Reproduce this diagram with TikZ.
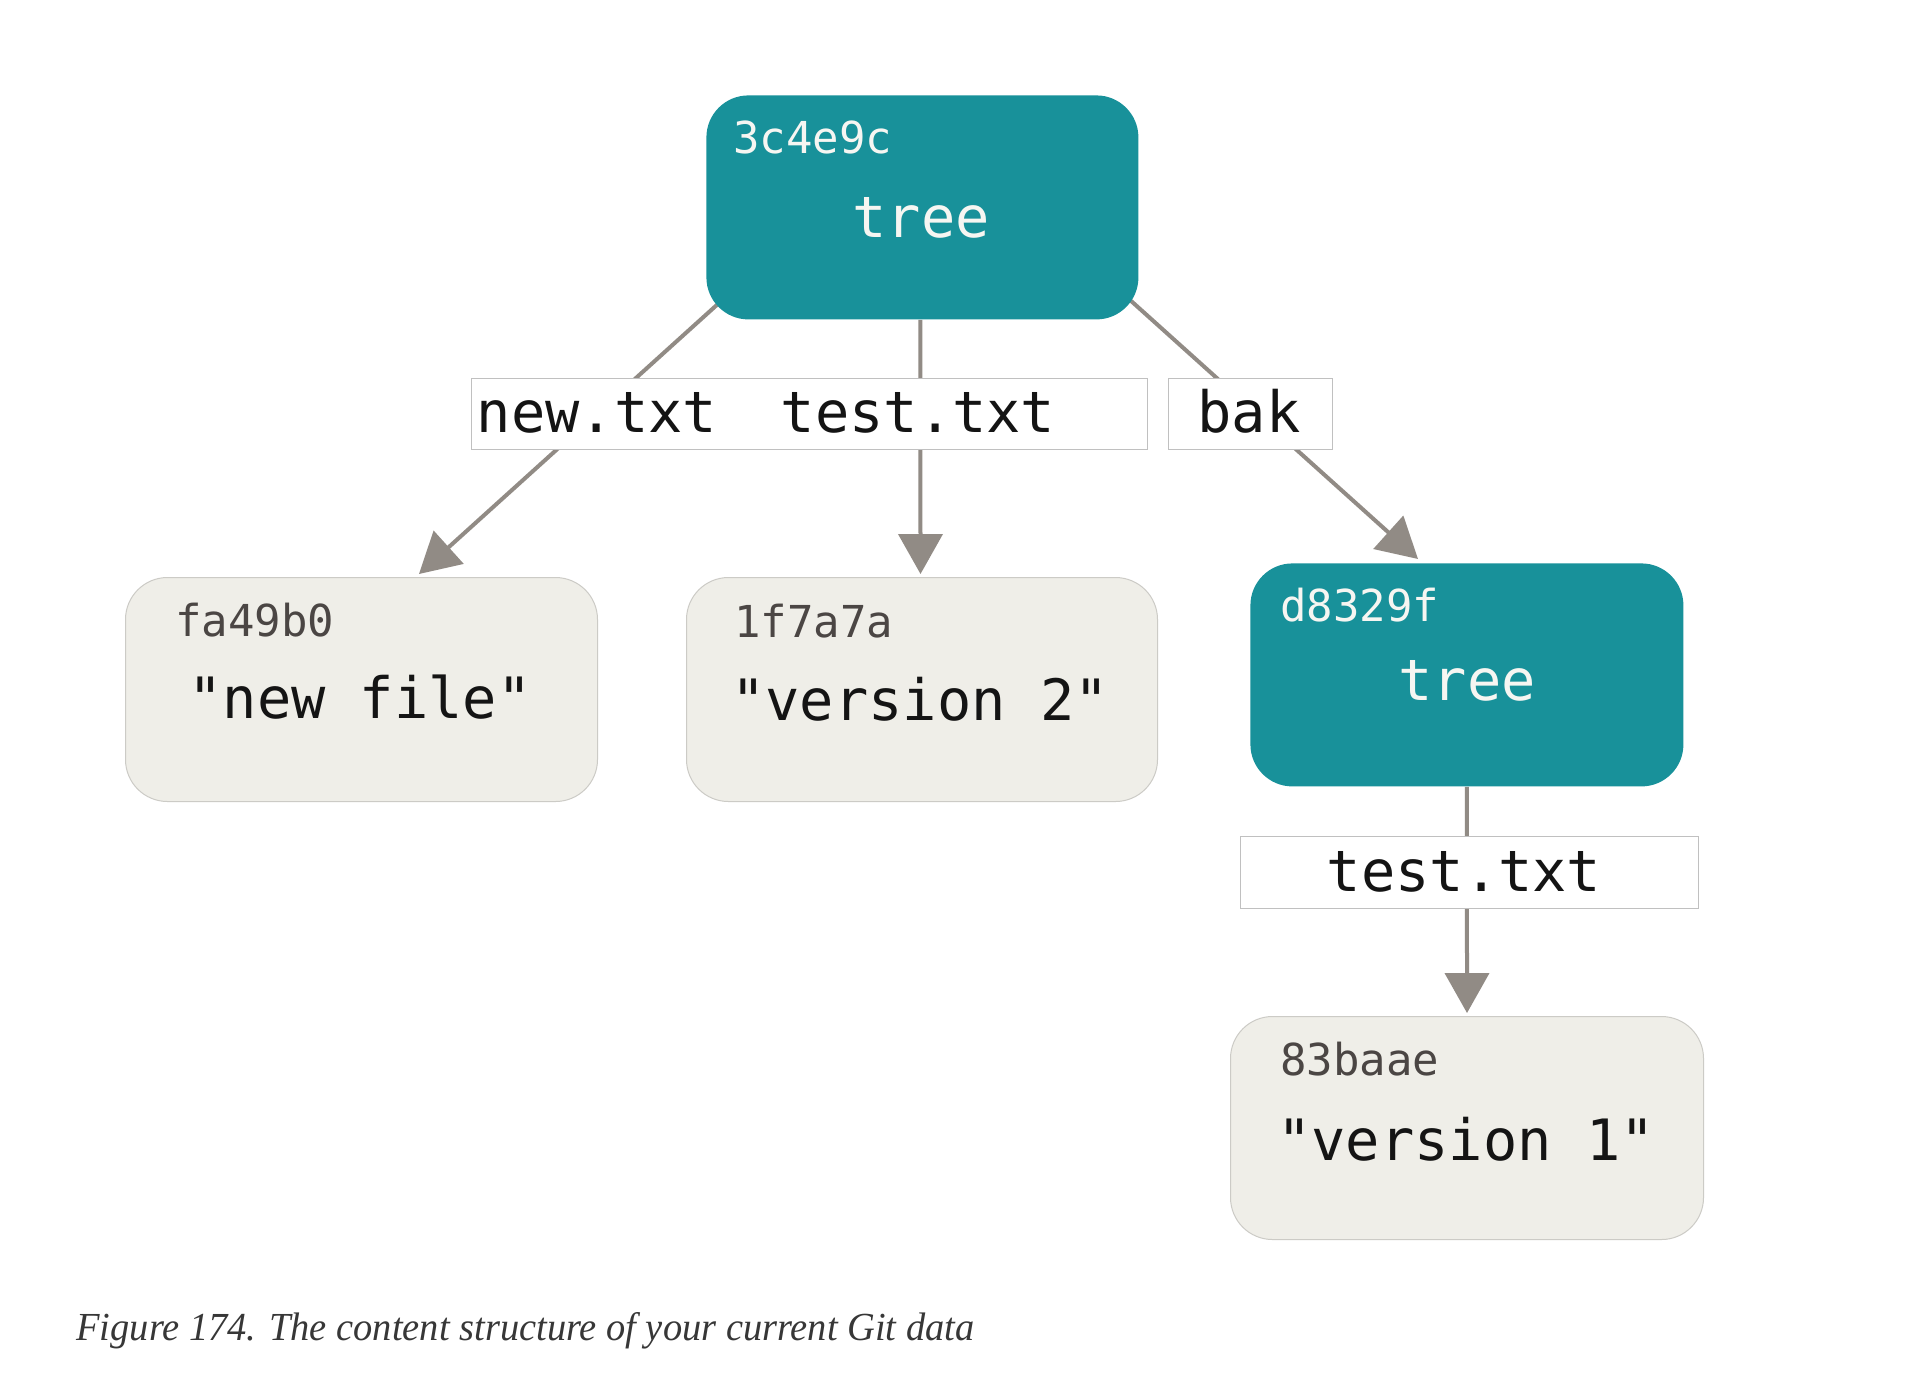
\documentclass[tikz,border=0pt]{standalone}
\usepackage{fontspec}
\setmonofont{DejaVu Sans Mono}
\setmainfont{Liberation Serif}
\usetikzlibrary{arrows.meta,calc,backgrounds}
\definecolor{gitteal}{RGB}{24,145,154}
\definecolor{blobfill}{RGB}{239,238,232}
\definecolor{blobline}{RGB}{204,203,198}
\definecolor{conngray}{RGB}{145,139,133}
\definecolor{labline}{RGB}{192,192,192}
\definecolor{hashgray}{RGB}{75,70,68}
\definecolor{txtblack}{RGB}{20,20,20}
\definecolor{tealtxt}{RGB}{246,246,242}
\definecolor{capgray}{RGB}{55,55,55}
\begin{document}
\begin{tikzpicture}[x=0.5pt,y=-0.5pt,
  treebox/.style={fill=gitteal, rounded corners=21pt, inner sep=0pt, anchor=north west, minimum width=216pt, minimum height=112pt},
  blobbox/.style={fill=blobfill, draw=blobline, line width=0.5pt, rounded corners=21pt, inner sep=0pt, anchor=north west, minimum width=236pt, minimum height=112pt},
  labbox/.style={fill=white, draw=labline, line width=0.7pt, inner sep=0pt, anchor=north west, minimum height=35.5pt},
  hashtxt/.style={inner sep=0pt, anchor=base west, font=\ttfamily\fontsize{22pt}{22pt}\selectfont},
  maintxt/.style={inner sep=0pt, anchor=base, font=\ttfamily\fontsize{28.5pt}{28.5pt}\selectfont},
  conn/.style={draw=conngray, line width=2pt},
  arr/.style={conn, -{Triangle[width=22pt,length=20pt]}}]
\useasboundingbox (0,0) rectangle (1914,1383);

% boxes
\node[treebox] (root) at (706,95) {};
\node[blobbox] (fa) at (125,577) {};
\node[blobbox, minimum width=235.5pt] (vtwo) at (686,577) {};
\node[treebox, minimum width=216.5pt, minimum height=111.5pt] (dtree) at (1250,563) {};
\node[blobbox, minimum width=236.5pt, minimum height=111.5pt] (vone) at (1230,1016) {};

% labels
\node[labbox, minimum width=338pt] (labA) at (471,378) {};
\node[labbox, minimum width=82pt] (labB) at (1168,378) {};
\node[labbox, minimum width=229pt, minimum height=36pt] (labC) at (1240,836) {};

% connectors
\begin{scope}[on background layer]
\fill[white] (0,0) rectangle (1914,1383);
\draw[arr] ($(root.south west)+(11,-15)$) -- ($(fa.north west)+(294,-3)$);
\draw[arr] ($(root.south)+(-2,0)$) -- ($(vtwo.north)+(-1.5,-3)$);
\draw[arr] ($(root.south east)+(-9,-20)$) -- ($(dtree.north west)+(168,-4)$);
\draw[arr] (dtree.south) -- ($(vone.north)+(0,-3)$);
\end{scope}

% texts in boxes
\node[hashtxt, text=tealtxt] (rooth) at (733,153) {3c4e9c};
\node[maintxt, text=tealtxt] (roott) at (921,237) {tree};
\node[hashtxt, text=hashgray] (fah) at (175,636) {fa49b0};
\node[maintxt, text=txtblack] (fat) at (360,718) {"new file"};
\node[hashtxt, text=hashgray] (vtwoh) at (734,637) {1f7a7a};
\node[maintxt, text=txtblack] (vtwot) at (920,720) {"version 2"};
\node[hashtxt, text=tealtxt] (dtreeh) at (1280,621) {d8329f};
\node[maintxt, text=tealtxt] (dtreet) at (1467,700) {tree};
\node[hashtxt, text=hashgray] (voneh) at (1280,1075) {83baae};
\node[maintxt, text=txtblack] (vonet) at (1466,1160) {"version 1"};

% label texts
\node[maintxt, text=txtblack] (labAa) at (597,432) {new.txt};
\node[maintxt, text=txtblack] (labAb) at (918,432) {test.txt};
\node[maintxt, text=txtblack] (labBt) at (1249,432) {bak};
\node[maintxt, text=txtblack] (labCt) at (1464,891) {test.txt};

% caption
\node[inner sep=0pt, anchor=base west, text=capgray] (cap) at (76,1340)
  {\resizebox{449pt}{14pt}{\itshape Figure 174. The content structure of your current Git data}};
\end{tikzpicture}
\end{document}
